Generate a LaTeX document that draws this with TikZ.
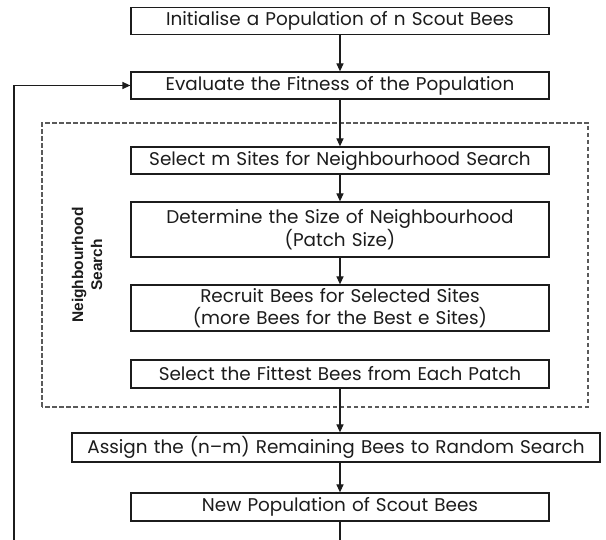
\documentclass[tikz,border=0pt]{standalone}
\usepackage{fontspec}
\setmainfont{Poppins}
\newfontfamily\labelfont{Liberation Sans}
\usetikzlibrary{arrows.meta,positioning}
\definecolor{ink}{HTML}{1C1C1C}
\definecolor{frame}{HTML}{5A5A5A}

\begin{document}
\begin{tikzpicture}[x=1pt,y=1pt,>={Triangle[length=8pt,width=7pt]},
beebox/.style={draw=ink,line width=1.2pt,fill=white,align=center,text width=410pt,minimum width=418pt,minimum height=27pt,inner sep=0pt,text=ink,font=\fontsize{18.4}{21.5}\selectfont},
link/.style={->,line width=1.2pt,ink}]

\useasboundingbox[fill=white] (0,0) rectangle (606,540);

% neighbourhood search frame
\draw[frame,line width=1.1pt,dash pattern=on 4.5pt off 2.5pt] (42,133) rectangle (588,417);
\node[rotate=90,align=center,text=ink,font=\labelfont\bfseries\fontsize{15.5}{19}\selectfont] (nslabel) at (87,275){Neighbourhood\\Search};

\node[beebox] (init) at (340,519){Initialise a Population of n Scout Bees};
\node[beebox] (eval) at (340,454.5){Evaluate the Fitness of the Population};
\node[beebox] (selm) at (340,379.5){Select m Sites for Neighbourhood Search};
\node[beebox,minimum height=55pt] (size) at (340,310.5){Determine the Size of Neighbourhood\\(Patch Size)};
\node[beebox,minimum height=46pt] (recruit) at (340,232){Recruit Bees for Selected Sites\\(more Bees for the Best e Sites)};
\node[beebox,minimum height=28pt] (fittest) at (340,166){Select the Fittest Bees from Each Patch};
\node[beebox,text width=520pt,minimum width=528pt,minimum height=29pt] (assign) at (336,92.5){Assign the (n--m) Remaining Bees to Random Search};
\node[beebox,minimum height=28pt] (newpop) at (340,33){New Population of Scout Bees};

\coordinate (back) at (14,-20);

\draw[link] (init)--(eval);
\draw[link] (eval)--(selm);
\draw[link] (selm)--(size);
\draw[link] (size)--(recruit);
\draw[link] (fittest.south)--(fittest.south |- assign.north);
\draw[link] (assign.south -| newpop)--(newpop);
\draw[link] (newpop.south) |- (back) |- (eval.west);
\end{tikzpicture}
\end{document}
